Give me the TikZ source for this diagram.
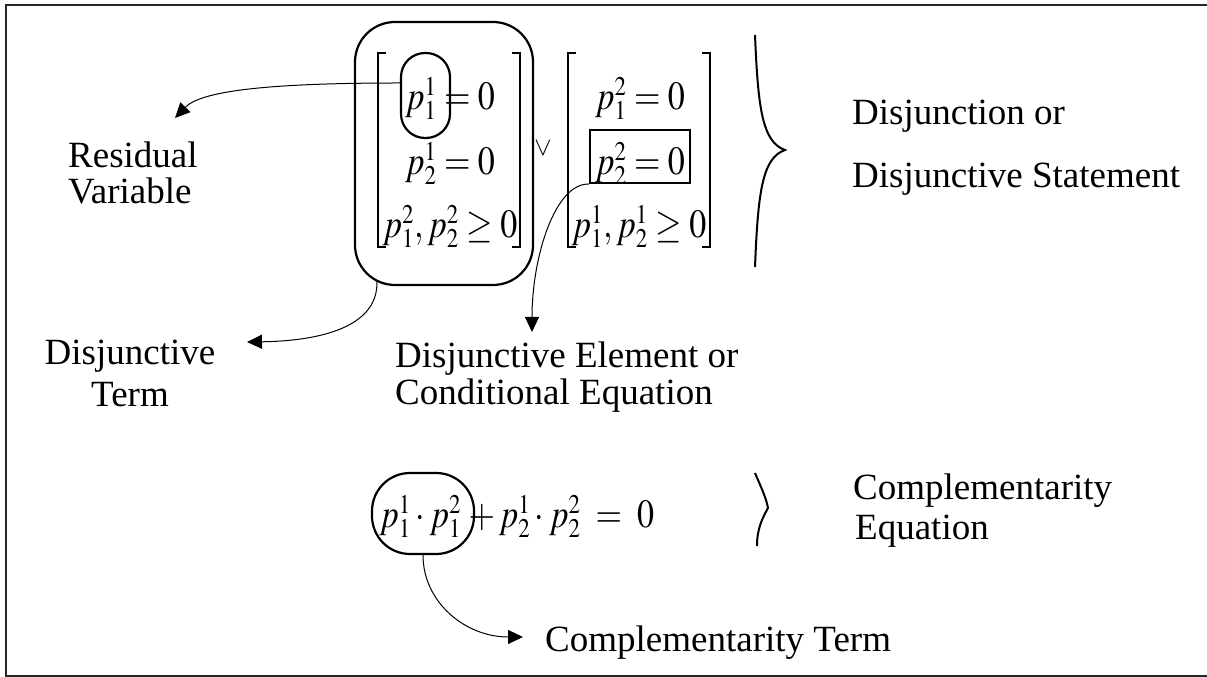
\documentclass[tikz,border=0pt]{standalone}
\usepackage{mathptmx}
\usepackage{fontspec}
\setmainfont{Liberation Serif}
\usetikzlibrary{arrows.meta,calc}
\DeclareMathSizes{40}{40}{27}{19}
\newcommand{\narroweq}[1]{\scalebox{0.85}[1]{$#1$}}

\begin{document}
\begin{tikzpicture}[x=1pt, y=1pt,
    lbl/.style={font=\fontsize{37}{36}\selectfont, inner sep=0pt},
    eqn/.style={font=\fontsize{40}{44}\selectfont, inner sep=0pt},
    ring/.style={draw, line width=2.2pt, rounded corners=#1},
    pointer/.style={-{Triangle[length=15pt,width=14pt]}, line width=1pt},
    brk/.style={line width=1.2pt},
    brace/.style={line width=2pt},
  ]
\useasboundingbox (0,0) rectangle (1207,677);
% --- frame (right side runs off the page) ----------------------------------
\draw[line width=2pt, draw=black!85] (1230,672) -- (6,672) -- (6,1) -- (1230,1);

% --- the two bracketed terms ------------------------------------------------
\foreach \l/\r in {378/520, 568/710} {
  \draw[brk] (\l+8,624) -- (\l,624) -- (\l,430) -- (\l+8,430);
  \draw[brk] (\r-8,624) -- (\r,624) -- (\r,430) -- (\r-8,430);
}
\node[eqn, anchor=base] (la) at (450,567) {\narroweq{p_1^1 = 0}};
\node[eqn, anchor=base] (lb) at (450,502) {\narroweq{p_2^1 = 0}};
\node[eqn, anchor=base] (lc) at (450,439) {\narroweq{p_1^2, p_2^2 \geq 0}};
\node[eqn, anchor=base] (ra) at (640,567) {\narroweq{p_1^2 = 0}};
\node[eqn, anchor=base] (rb) at (640,502) {\narroweq{p_2^2 = 0}};
\node[eqn, anchor=base] (rc) at (639,439) {\narroweq{p_1^1, p_2^1 \geq 0}};
\node[font=\fontsize{26}{26}\selectfont, inner sep=0pt] (orsym) at (543,529) {$\vee$};

% --- outlines ---------------------------------------------------------------
\node[ring=40pt, minimum width=178pt, minimum height=263pt] (term) at (444,523.5) {};
\node[ring=24pt, minimum width=49pt, minimum height=85pt] (resid) at (425.5,581.5) {};
\node[draw, line width=2.2pt, minimum width=100pt, minimum height=53pt] (elem) at (640,520.5) {};

% --- braces -----------------------------------------------------------------
\draw[brace] (755,642) .. controls (758,570) and (762,535) .. (785,527)
  .. controls (762,519) and (758,484) .. (755,410);
\draw[brace] (755,204) .. controls (760,192) and (766,180) .. (768,169)
  .. controls (762,158) and (757,148) .. (757,131);

% --- labels (a multi-line node sits on its last line) -------------------------
\node[lbl, anchor=base west, align=left] (resvar) at (68,473) {Residual\\Variable};
\node[lbl, anchor=base, align=center, font=\fontsize{37}{42}\selectfont] (djterm) at (130,270) {Disjunctive\\Term};
\node[lbl, anchor=base west, align=left, font=\fontsize{37}{37}\selectfont] (djelem) at (395,272) {Disjunctive Element or\\Conditional Equation};
\node[lbl, anchor=base west, align=left, font=\fontsize{37}{63}\selectfont] (djstat) at (852,489) {Disjunction or\\Disjunctive Statement};
\node[lbl, anchor=base west, align=left, font=\fontsize{37}{40}\selectfont] (compeq) at (853,137) {Complementarity\\\hspace*{2pt}Equation};

% --- complementarity equation -------------------------------------------------
\node[eqn, anchor=base west] (ceq) at (379,149) {\narroweq{p_1^1\cdot p_1^2 \;{+}\, p_2^1\cdot p_2^2 \;=\; 0}};
\node[ring=38pt, minimum width=102pt, minimum height=81pt] (comp) at (423,163.5) {};
\node[lbl, anchor=base west] (compterm) at (545,25) {Complementarity Term};

% --- pointers -----------------------------------------------------------------
\coordinate (rvtip) at (175,559);
\coordinate (dttip) at (247,335);
\coordinate (detip) at (532,345);
\coordinate (cttip) at (523,40);
\draw[pointer] ($(resid.west)+(0,12.5)$) .. controls (260,594) and (200,585) .. (rvtip);
\draw[pointer] ($(term.south west)+(23,4)$) .. controls (378,350) and (320,336) .. (dttip);
\draw[pointer] (elem.south west) .. controls (555,494) and (532,420) .. (detip);
\draw[pointer] (comp.south) .. controls (423,75) and (465,40) .. (cttip);
\end{tikzpicture}
\end{document}
